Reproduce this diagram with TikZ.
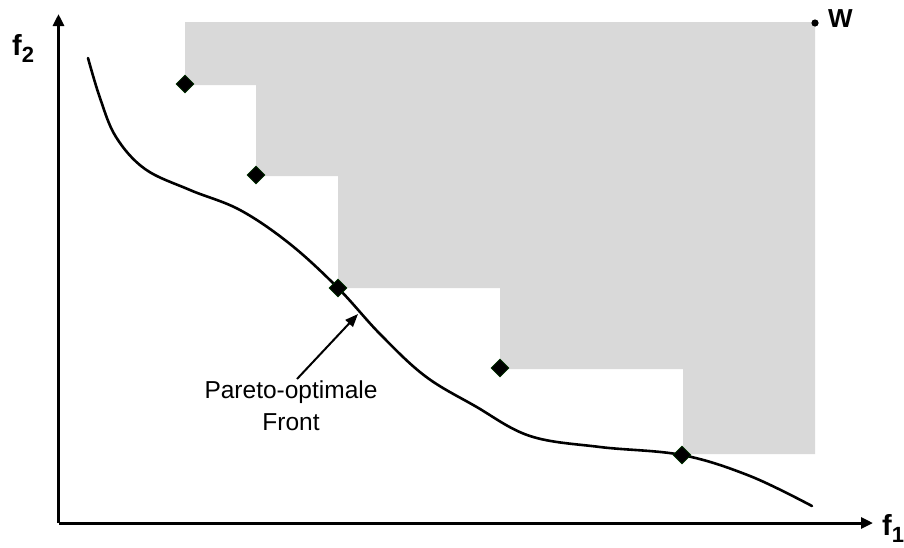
\documentclass[tikz,border=0pt]{standalone}
\usepackage{fontspec}
\setmainfont{Liberation Sans}
\usetikzlibrary{shapes.geometric,arrows.meta}
\definecolor{regiongray}{RGB}{217,217,217}
\newcommand{\subsc}[2]{\raisebox{-#1pt}{\fontsize{22}{24}\selectfont #2}}
\begin{document}
\begin{tikzpicture}[x=1pt,y=-1pt,
  pt/.style={diamond,fill=black,draw=black!80!green,line width=0.6pt,inner sep=0pt,minimum size=18pt},
  axis/.style={line width=3pt,-{Triangle[length=12pt,width=11pt]}},
  front/.style={line width=2.6pt,line cap=round,line join=round},
  lbl/.style={font=\fontsize{29}{30}\selectfont\bfseries,inner sep=0pt},
  wlbl/.style={font=\fontsize{26}{30}\selectfont\bfseries,inner sep=0pt},
  note/.style={font=\fontsize{24.5}{32}\selectfont,align=center,inner sep=0pt}]
\useasboundingbox (0,0) rectangle (904,547);
% dominated region
\fill[regiongray] (185,22) -- (815,22) -- (815,454) -- (683,454) -- (683,369) -- (500,369)
  -- (500,288) -- (338,288) -- (338,176) -- (256,176) -- (256,85) -- (185,85) -- cycle;
% axes
\coordinate (o) at (58.5,523);
\coordinate (ytip) at (58.5,14);
\coordinate (xtip) at (873,523);
\draw[axis] (o) -- (ytip);
\draw[axis] (o) -- (xtip);
\node[lbl,anchor=base west] (f2) at (12,55) {f\subsc{7}{2}};
\node[lbl,anchor=base west] (f1) at (882,535) {f\subsc{7}{1}};
% Pareto front curve
\draw[front] plot[smooth,tension=0.6] coordinates {(88,58) (100,98) (116,137) (145,169)
  (190,190) (240,210) (290,244) (338,288) (380,334) (425,376) (475,406) (530,436)
  (600,447) (682,455) (750,476) (812,506)};
% points
\node[pt] (p1) at (185,84) {};
\node[pt] (p2) at (256,175) {};
\node[pt] (p3) at (338,288) {};
\node[pt] (p4) at (500,368) {};
\node[pt] (p5) at (682,455) {};
% reference point W
\fill (815,23) circle (3.6pt);
\node (wpt) at (815,23) {};
\node[wlbl,anchor=base west] (w) at (828,27) {W};
% label with arrow
\node[note] (lab) at (291,406) {Pareto-optimale\\Front};
\coordinate (tip) at (358,314);
\draw[line width=2pt,-{Triangle[length=13pt,width=10pt]}] (297,379) -- (tip);
\end{tikzpicture}
\end{document}
